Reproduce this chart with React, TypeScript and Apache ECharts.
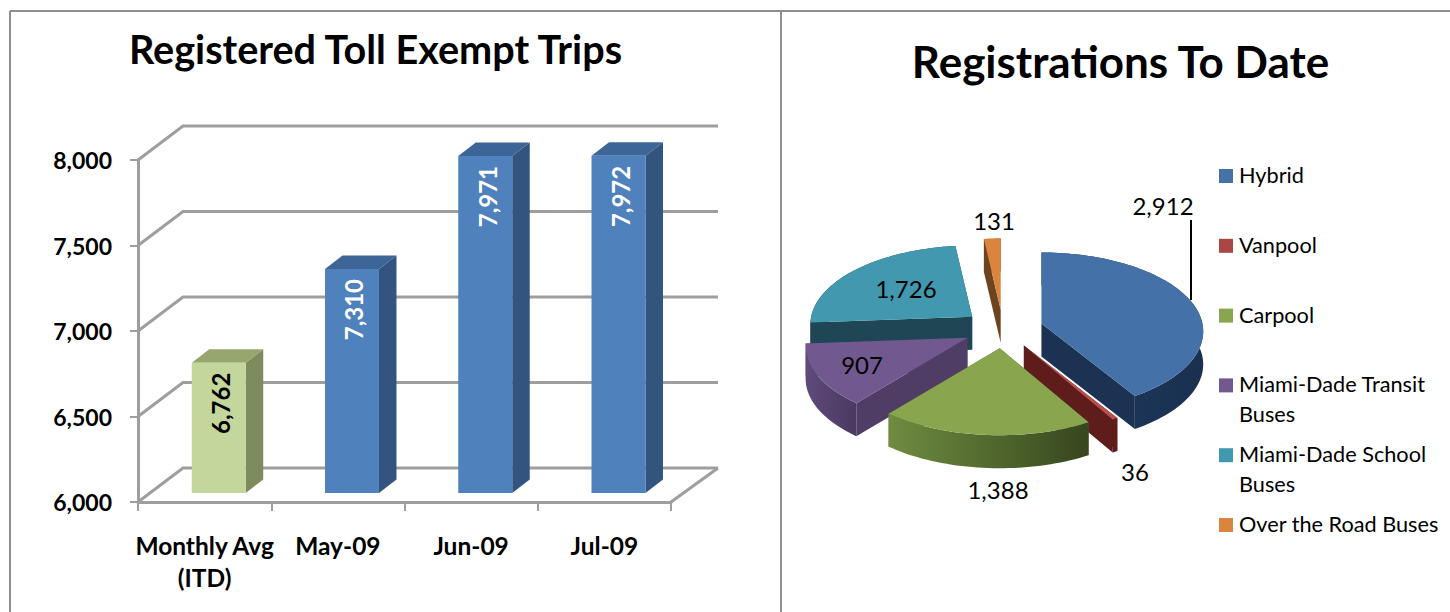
import React, { useEffect, useRef } from "react";
import * as echarts from "echarts";

const barCategories = ["Monthly Avg\n(ITD)", "May-09", "Jun-09", "Jul-09"];
const barValues = [6762, 7310, 7971, 7972];
const yTicks = [6000, 6500, 7000, 7500, 8000];
const pieCategories = ["Hybrid", "Vanpool", "Carpool", "Miami-Dade Transit\nBuses", "Miami-Dade School\nBuses", "Over the Road Buses"];
const pieValues = [2912, 36, 1388, 907, 1726, 131];
const pieDrawOrder = [5, 4, 0, 3, 1, 2];

const FONT = "Lato";
const GRID_COLOR = "#9e9e9e";
const pieTop = ["#4472a8", "#b5504c", "#89a54e", "#71588f", "#4198af", "#db843d"];
const legendColors = ["#4572a7", "#aa4643", "#89a54e", "#71588f", "#4198af", "#db843d"];
const pieWall = ["#1b3252", "#5e1c1a", "#4e6330", "#4f3d66", "#1e4654", "#6e4420"];
const pieRimFrom = ["#1e3a5e", "#5e1c1a", "#6f8c41", "#5f4a7c", "#1e4654", "#6e4420"];
const pieRimTo = ["#1a3050", "#5e1c1a", "#36461d", "#4a3960", "#1e4654", "#6e4420"];
const pieLabelAt: number[][] = [[1163, 205], [1135, 471], [998, 489], [862, 364], [906, 288], [994, 220]];

const fmt = (v: number) => v.toLocaleString("en-US");

function renderWall(params: any, api: any) {
  const cs = params.coordSys;
  const y = api.coord([0, api.value(1)])[1];
  const dx = 45, dy = -34, right = 718;
  const style = { stroke: GRID_COLOR, lineWidth: 3, fill: "none" };
  const children: any[] = [{
    type: "polyline",
    shape: { points: [[cs.x, y], [cs.x + dx, y + dy], [right, y + dy]] },
    style,
  }];
  if (params.dataIndex === 0) {
    children.push({
      type: "polyline",
      shape: { points: [[cs.x + cs.width, y], [right, y + dy]] },
      style,
    });
  }
  return { type: "group", children };
}

function renderBar(params: any, api: any) {
  const i = api.value(0);
  const [cx, top0] = api.coord([i, api.value(1)]);
  const [, base0] = api.coord([i, 6000]);
  const band = api.size([1, 0])[0];
  const w = band * 0.405;
  const cxx = cx + band * 0.106;
  const l = cxx - w / 2, r = cxx + w / 2;
  const top = top0 - 9, bottom = base0 - 9;
  const dx = 17.5, dy = -13.5;
  const green = i === 0;
  const front = green ? "#c3d69b" : "#4f81bd";
  const side = green ? "#7e8c5d" : "#32547f";
  const cap = green ? "#97a56f" : "#3d6595";
  return {
    type: "group",
    children: [
      { type: "polygon", shape: { points: [[r, top], [r + dx, top + dy], [r + dx, bottom + dy], [r, bottom]] }, style: { fill: side } },
      { type: "polygon", shape: { points: [[l, top], [l + dx, top + dy], [r + dx, top + dy], [r, top]] }, style: { fill: cap } },
      { type: "rect", shape: { x: l, y: top, width: r - l, height: bottom - top }, style: { fill: front } },
      {
        type: "text",
        x: cxx + 2,
        y: top + 10,
        rotation: Math.PI / 2,
        style: {
          text: fmt(api.value(1)),
          fill: green ? "#000000" : "#ffffff",
          fontFamily: FONT,
          fontWeight: "bold",
          fontSize: 24,
          align: "right",
          verticalAlign: "middle",
        },
      },
    ],
  };
}

function renderPie(params: any, api: any) {
  const idx = api.value(1);
  const total = pieValues.reduce((a, b) => a + b, 0);
  const before = pieValues.slice(0, idx).reduce((a, b) => a + b, 0);
  const a0 = (before / total) * Math.PI * 2;
  const a1 = ((before + pieValues[idx]) / total) * Math.PI * 2;
  const mid = (a0 + a1) / 2;
  const R = 161, Ry = 79, K = 0.1, depth = 33;
  const ox = 1003 + 40 * Math.sin(mid);
  const oy = 329 - 19.4 * Math.cos(mid);
  const proj = (t: number) => {
    const z = -Math.cos(t);
    const s = 1 + K * z;
    return [ox + R * Math.sin(t) * s, oy + Ry * z * s];
  };
  const steps = Math.max(2, Math.ceil((a1 - a0) / 0.03));
  const arc: number[][] = [];
  for (let k = 0; k <= steps; k++) arc.push(proj(a0 + ((a1 - a0) * k) / steps));
  const down = (p: number[]) => [p[0], p[1] + depth];
  const apex = [ox, oy];
  const first = arc[0], last = arc[arc.length - 1];
  const rimFill = new echarts.graphic.LinearGradient(0, 0, 1, 0, [
    { offset: 0, color: pieRimFrom[idx] },
    { offset: 1, color: pieRimTo[idx] },
  ]);
  const children: any[] = [
    { type: "polygon", shape: { points: [apex, first, down(first), down(apex)] }, style: { fill: pieWall[idx] } },
    { type: "polygon", shape: { points: [apex, last, down(last), down(apex)] }, style: { fill: pieWall[idx] } },
    { type: "polygon", shape: { points: [...arc, ...arc.slice().reverse().map(down)] }, style: { fill: rimFill } },
    { type: "polygon", shape: { points: [apex, ...arc] }, style: { fill: pieTop[idx] } },
  ];
  if (idx === 0) {
    children.push({ type: "line", shape: { x1: 1191, y1: 220, x2: 1191, y2: 300 }, style: { stroke: "#000000", lineWidth: 2 } });
  }
  children.push({
    type: "text",
    x: pieLabelAt[idx][0],
    y: pieLabelAt[idx][1],
    style: { text: fmt(pieValues[idx]), fill: "#000000", fontFamily: FONT, fontSize: 24, align: "center", verticalAlign: "middle" },
  });
  return { type: "group", children };
}

const legendGraphics = pieCategories.flatMap((name, i) => {
  const y = 169 + i * 69.8;
  return [
    { type: "rect", left: 1219, top: y, shape: { width: 14, height: 14 }, style: { fill: legendColors[i] } },
    {
      type: "text",
      left: 1239,
      top: y - 9,
      style: { text: name, fill: "#000000", fontFamily: FONT, fontSize: 21.7, lineHeight: 30 },
    },
  ];
});

const frame = [
  [10, 11, 1450, 11],
  [10, 11, 10, 612],
  [781, 11, 781, 612],
].map(([x1, y1, x2, y2]) => ({
  type: "line",
  shape: { x1, y1, x2, y2 },
  style: { stroke: "#8f8f8f", lineWidth: 2 },
}));

export default function App() {
  const ref = useRef<HTMLDivElement>(null);
  useEffect(() => {
    const chart = echarts.init(ref.current!, null, { renderer: "svg" });
    chart.setOption({
      animation: false,
      backgroundColor: "#ffffff",
      title: [
        { text: "Registered Toll Exempt Trips", left: 370.5, top: 23, textAlign: "center", textStyle: { fontFamily: FONT, fontWeight: "bold", fontSize: 39.6, color: "#000000" } },
        { text: "Registrations To Date", left: 1115.5, top: 34, textAlign: "center", textStyle: { fontFamily: FONT, fontWeight: "bold", fontSize: 44, color: "#000000" } },
      ],
      grid: { left: 138, top: 160, width: 533, height: 342, containLabel: false },
      xAxis: {
        type: "category",
        data: barCategories,
        axisLine: { lineStyle: { color: GRID_COLOR, width: 3 } },
        axisTick: { show: true, alignWithLabel: false, length: 9, lineStyle: { color: GRID_COLOR, width: 2 } },
        axisLabel: { color: "#000000", fontFamily: FONT, fontWeight: "bold", fontSize: 24.5, lineHeight: 32, margin: 27, interval: 0 },
      },
      yAxis: {
        type: "value",
        min: 6000,
        max: 8000,
        interval: 500,
        axisLine: { show: true, lineStyle: { color: GRID_COLOR, width: 3 } },
        axisTick: { show: true, length: 8, lineStyle: { color: GRID_COLOR, width: 2 } },
        splitLine: { show: false },
        axisLabel: { color: "#000000", fontFamily: FONT, fontWeight: "bold", fontSize: 23, margin: 26, padding: [6, 0, 0, 0], formatter: (v: number) => fmt(v) },
      },
      graphic: [...frame, ...legendGraphics],
      series: [
        { type: "custom", name: "Gridlines", silent: true, z: 1, renderItem: renderWall, data: yTicks.map((v) => [0, v]) },
        { type: "custom", name: "Trips", silent: true, z: 3, renderItem: renderBar, data: barValues.map((v, i) => [i, v]) },
        { type: "custom", name: "Registrations", silent: true, coordinateSystem: "none", z: 3, renderItem: renderPie, data: pieDrawOrder.map((i) => [pieValues[i], i]) },
      ],
    });
    return () => chart.dispose();
  }, []);
  return <div ref={ref} style={{ position: "absolute", left: 0, top: 0, width: 1450, height: 612, overflow: "hidden" }} />;
}
